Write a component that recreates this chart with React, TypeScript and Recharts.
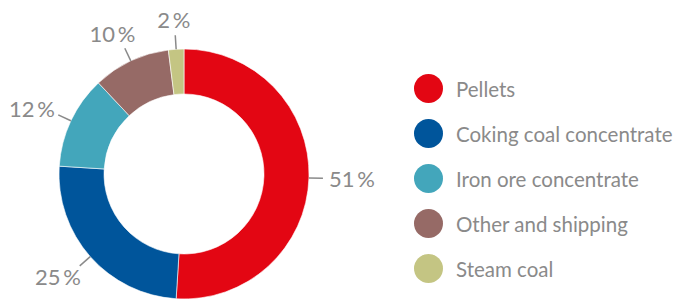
import React from "react";
import { PieChart, Pie, Cell, Legend } from "recharts";

// Структура выручки по продуктам, %
const categories = ["Pellets", "Coking coal concentrate", "Iron ore concentrate", "Other and shipping", "Steam coal"];
const shares = [51, 25, 12, 10, 2];
const colors = ["#e30613", "#00559b", "#43a6bb", "#966a66", "#c4c583"];

const data = categories.map((name, i) => ({ name, value: shares[i] }));

const RAD = Math.PI / 180;
const TEXT = "#8a8a8a";
const FONT = "Lato, 'Open Sans', sans-serif";

const renderLabel = (props: any) => {
  const { cx, cy, midAngle, outerRadius, value } = props;
  const cos = Math.cos(-midAngle * RAD);
  const sin = Math.sin(-midAngle * RAD);
  const x1 = cx + outerRadius * cos;
  const y1 = cy + outerRadius * sin;
  const x2 = cx + (outerRadius + 14) * cos;
  const y2 = cy + (outerRadius + 14) * sin;
  const label = `${value}\u2009%`;
  const halfW = String(value).length * 6.5 + 9;
  // box of the label sits just outside the leader line
  const tx = x2 + cos * (halfW + 7);
  const ty = y2 + sin * 16;
  return (
    <g>
      <line x1={x1} y1={y1} x2={x2} y2={y2} stroke={TEXT} strokeWidth={1.5} />
      <text
        x={tx}
        y={ty}
        textAnchor="middle"
        dominantBaseline="central"
        fill={TEXT}
        fontSize={22}
        fontFamily={FONT}
      >
        {label}
      </text>
    </g>
  );
};

const renderLegend = () => (
  <div style={{ fontFamily: FONT }}>
    {categories.map((c, i) => (
      <div key={c} style={{ display: "flex", alignItems: "center", height: 45 }}>
        <span
          style={{
            display: "inline-block",
            width: 29,
            height: 29,
            borderRadius: "50%",
            background: colors[i],
            marginRight: 13,
          }}
        />
        <span style={{ fontSize: 20.5, color: TEXT, whiteSpace: "nowrap" }}>{c}</span>
      </div>
    ))}
  </div>
);

export default function App() {
  return (
    <div style={{ position: "absolute", left: 0, top: 0, width: 674, height: 303, background: "#fff" }}>
      <PieChart width={674} height={303} margin={{ top: 0, right: 0, bottom: 0, left: 0 }}>
        <Pie
          data={data}
          dataKey="value"
          nameKey="name"
          cx={184}
          cy={174}
          innerRadius={80}
          outerRadius={125}
          startAngle={90}
          endAngle={-270}
          stroke="#fff"
          strokeWidth={0.6}
          label={renderLabel}
          labelLine={false}
          isAnimationActive={false}
        >
          {data.map((d, i) => (
            <Cell key={d.name} fill={colors[i]} />
          ))}
        </Pie>
        <Legend
          content={renderLegend}
          wrapperStyle={{ position: "absolute", left: 414, top: 66, width: 260 }}
        />
      </PieChart>
    </div>
  );
}
